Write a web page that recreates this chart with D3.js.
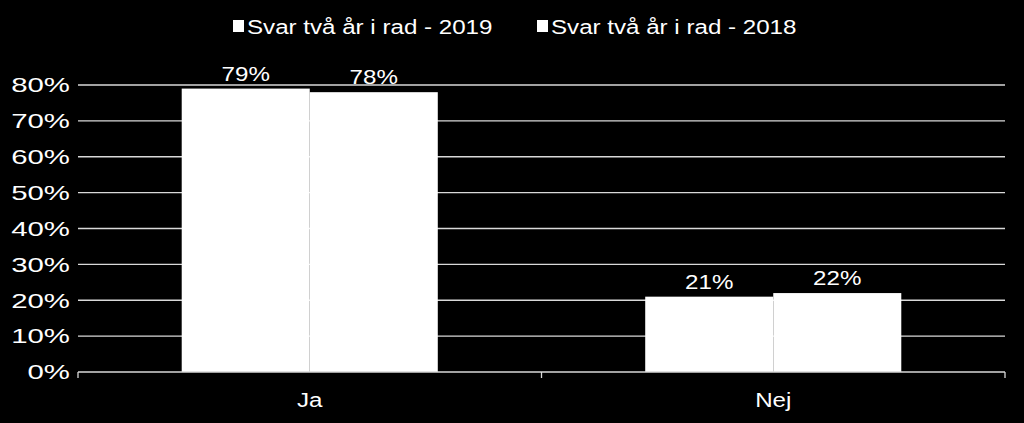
<!DOCTYPE html>
<html>
<head>
<meta charset="utf-8">
<script src="https://cdn.jsdelivr.net/npm/d3@7"></script>
<style>
  body { margin: 0; background: #000; }
  text { font-family: "Liberation Sans", Arial, sans-serif; fill: #fff; }
</style>
</head>
<body>
<script>
// chart data
var categories = ["Ja", "Nej"];
var seriesNames = ["Svar två år i rad - 2019", "Svar två år i rad - 2018"];
var values2019 = [0.79, 0.21];
var values2018 = [0.78, 0.22];
var labels2019 = ["79%", "21%"];
var labels2018 = ["78%", "22%"];
var yTicks = [0, 0.1, 0.2, 0.3, 0.4, 0.5, 0.6, 0.7, 0.8];

var svgWidth = 1024, svgHeight = 423;
var margin = {top: 85, right: 19, bottom: 51, left: 78};
var chartWidth = svgWidth - margin.left - margin.right;
var chartHeight = svgHeight - margin.top - margin.bottom;

var svg = d3.select("body").append("svg")
  .attr("width", svgWidth)
  .attr("height", svgHeight)
  .style("background", "#000");

var chartGroup = svg.append("g")
  .attr("transform", `translate(${margin.left}, ${margin.top})`);

var x0 = d3.scaleBand().domain(categories).range([0, chartWidth]).paddingInner(0).paddingOuter(0);
var x1 = d3.scaleBand().domain([0, 1]).range([0, x0.bandwidth()]).paddingInner(0).paddingOuter(0.81);
var y = d3.scaleLinear().domain([0, 0.8]).range([chartHeight, 0]);

// gridlines
chartGroup.selectAll(".grid").data(yTicks.slice(1)).enter()
  .append("line")
  .attr("x1", 0).attr("x2", chartWidth)
  .attr("y1", d => y(d)).attr("y2", d => y(d))
  .attr("stroke", "#d9d9d9").attr("stroke-width", 1.3);

// y labels (stretched horizontally like the original)
chartGroup.selectAll(".ylab").data(yTicks).enter()
  .append("text")
  .attr("transform", d => `translate(-8, ${y(d)}) scale(1.4, 1)`)
  .attr("dy", "0.35em")
  .attr("text-anchor", "end")
  .attr("font-size", 21)
  .text(d => Math.round(d * 100) + "%");

// bars
var series = [values2019, values2018];
var labels = [labels2019, labels2018];
series.forEach(function(vals, s) {
  chartGroup.selectAll(".bar" + s).data(categories).enter()
    .append("rect")
    .attr("x", c => x0(c) + x1(s))
    .attr("y", (c, i) => y(vals[i]))
    .attr("width", x1.bandwidth())
    .attr("height", (c, i) => chartHeight - y(vals[i]))
    .attr("fill", "#fff");
  chartGroup.selectAll(".lab" + s).data(categories).enter()
    .append("text")
    .attr("transform", (c, i) => `translate(${x0(c) + x1(s) + x1.bandwidth() / 2}, ${y(vals[i]) - 8}) scale(1.15, 1)`)
    .attr("text-anchor", "middle")
    .attr("font-size", 21)
    .text((c, i) => labels[s][i]);
});

// x axis
chartGroup.append("line")
  .attr("x1", 0).attr("x2", chartWidth)
  .attr("y1", chartHeight).attr("y2", chartHeight)
  .attr("stroke", "#d9d9d9").attr("stroke-width", 1.3);
[0, x0.bandwidth(), chartWidth].forEach(function(t) {
  chartGroup.append("line")
    .attr("x1", t).attr("x2", t)
    .attr("y1", chartHeight).attr("y2", chartHeight + 6)
    .attr("stroke", "#d9d9d9").attr("stroke-width", 1.3);
});
chartGroup.selectAll(".xlab").data(categories).enter()
  .append("text")
  .attr("transform", c => `translate(${x0(c) + x0.bandwidth() / 2}, ${chartHeight + 35}) scale(1.15, 1)`)
  .attr("text-anchor", "middle")
  .attr("font-size", 21)
  .text(c => c);

// legend
var legendX = [233, 537];
seriesNames.forEach(function(n, i) {
  svg.append("rect")
    .attr("x", legendX[i]).attr("y", 20)
    .attr("width", 11).attr("height", 12)
    .attr("fill", "#fff");
  svg.append("text")
    .attr("transform", `translate(${legendX[i] + 14}, 34) scale(1.15, 1)`)
    .attr("font-size", 21)
    .text(n);
});
</script>
</body>
</html>
